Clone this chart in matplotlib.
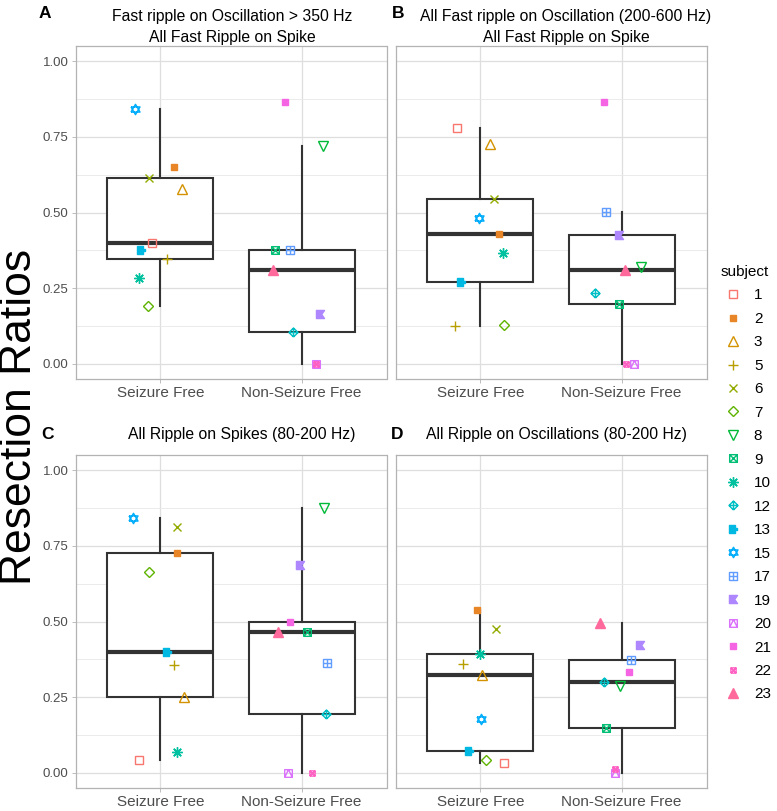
import math
import numpy as np
import matplotlib
matplotlib.use("Agg")
import matplotlib.pyplot as plt
from matplotlib.path import Path
from matplotlib.lines import Line2D
from matplotlib import font_manager

# ---------------- data ----------------
subjects = [1, 2, 3, 5, 6, 7, 8, 9, 10, 12, 13, 15, 17, 19, 20, 21, 22, 23]
outcome = ["SF", "SF", "SF", "SF", "SF", "SF", "NSF", "NSF", "SF", "NSF",
           "SF", "SF", "NSF", "NSF", "NSF", "NSF", "NSF", "NSF"]
groups = ["Seizure Free", "Non-Seizure Free"]

values_A = [0.40, 0.649, 0.576, 0.346, 0.614, 0.19, 0.72, 0.376, 0.285, 0.105,
            0.376, 0.843, 0.376, 0.164, 0.0, 0.866, 0.0, 0.31]
values_B = [0.78, 0.429, 0.725, 0.126, 0.545, 0.129, 0.319, 0.199, 0.365, 0.233,
            0.271, 0.481, 0.502, 0.427, 0.0, 0.866, 0.0, 0.31]
values_C = [0.041, 0.726, 0.25, 0.355, 0.812, 0.664, 0.874, 0.466, 0.068, 0.196,
            0.398, 0.842, 0.362, 0.686, 0.0, 0.50, 0.0, 0.466]
values_D = [0.034, 0.539, 0.323, 0.361, 0.474, 0.044, 0.288, 0.148, 0.392, 0.30,
            0.073, 0.178, 0.373, 0.422, 0.0, 0.334, 0.014, 0.496]

# horizontal jitter (category units)
jitter_A = [-0.06, 0.10, 0.15, 0.05, -0.08, -0.09, 0.15, -0.19, -0.15, -0.06,
            -0.14, -0.18, -0.085, 0.13, 0.10, -0.12, 0.10, -0.20]
jitter_B = [-0.165, 0.13, 0.066, -0.18, 0.095, 0.167, 0.137, -0.02, 0.16, -0.186,
            -0.14, -0.012, -0.108, -0.02, 0.09, -0.127, 0.03, 0.026]
jitter_C = [-0.15, 0.12, 0.17, 0.10, 0.115, -0.08, 0.155, 0.035, 0.115, 0.17,
            0.045, -0.19, 0.18, -0.015, -0.095, -0.08, 0.07, -0.17]
jitter_D = [0.17, -0.026, 0.012, -0.125, 0.11, 0.04, -0.012, -0.113, 0.0, -0.125,
            -0.08, 0.007, 0.064, 0.13, -0.05, 0.054, -0.05, -0.155]

titles = ["Fast ripple on Oscillation > 350 Hz\nAll Fast Ripple on Spike",
          "All Fast ripple on Oscillation (200-600 Hz)\nAll Fast Ripple on Spike",
          "All Ripple on Spikes (80-200 Hz)",
          "All Ripple on Oscillations (80-200 Hz)"]
panel_letters = ["A", "B", "C", "D"]
y_ticks = [0.0, 0.25, 0.50, 0.75, 1.00]
y_ticklabels = ["0.00", "0.25", "0.50", "0.75", "1.00"]
y_label = "Resection Ratios"
legend_title = "subject"

# ---------------- fonts ----------------
names = {f.name for f in font_manager.fontManager.ttflist}
base_font = "Liberation Sans" if "Liberation Sans" in names else "DejaVu Sans"
plt.rcParams["font.family"] = [base_font, "DejaVu Sans"]


# ---------------- ggplot hue palette ----------------
def hcl_hex(h, c=100.0, l=65.0):
    hr = math.radians(h)
    U, V = c * math.cos(hr), c * math.sin(hr)
    Xn, Yn, Zn = 95.047, 100.0, 108.883
    Y = Yn * ((l + 16) / 116) ** 3 if l > 8 else Yn * l / 903.3
    den = Xn + 15 * Yn + 3 * Zn
    un, vn = 4 * Xn / den, 9 * Yn / den
    u = U / (13 * l) + un
    v = V / (13 * l) + vn
    X = 9.0 * Y * u / (4 * v)
    Z = -X / 3 - 5 * Y + 3 * Y / v
    X, Y, Z = X / 100, Y / 100, Z / 100
    r = 3.240479 * X - 1.537150 * Y - 0.498535 * Z
    g = -0.969256 * X + 1.875992 * Y + 0.041556 * Z
    b = 0.055648 * X - 0.204043 * Y + 1.057311 * Z

    def gam(t):
        t = 12.92 * t if t <= 0.0031308 else 1.055 * t ** (1 / 2.4) - 0.055
        return min(max(t, 0.0), 1.0)
    return (gam(r), gam(g), gam(b))


n = len(subjects)
colors = [hcl_hex(15 + 360.0 * i / n) for i in range(n)]


# ---------------- marker shapes ----------------
def make_path(polys):
    verts, codes = [], []
    for p in polys:
        verts += p
        codes += [Path.MOVETO] + [Path.LINETO] * (len(p) - 1)
    return Path(verts, codes)


sq = [(-1, -1), (1, -1), (1, 1), (-1, 1), (-1, -1)]
sq_cross = make_path([sq, [(-1, -1), (1, 1)], [(-1, 1), (1, -1)]])
sq_plus = make_path([sq, [(0, -1), (0, 1)], [(-1, 0), (1, 0)]])
sq_tri = make_path([sq, [(-1, -1), (0, 1), (1, -1)]])
dia_plus = make_path([[(0, -1), (1, 0), (0, 1), (-1, 0), (0, -1)],
                      [(0, -1), (0, 1)], [(-1, 0), (1, 0)]])
star_david = make_path([[(-0.87, -0.5), (0.87, -0.5), (0, 1), (-0.87, -0.5)],
                        [(-0.87, 0.5), (0.87, 0.5), (0, -1), (-0.87, 0.5)]])
notch_sq = Path([(-1, -1), (0.4, -1), (0.4, -0.25), (1, -0.25), (1, 0.25),
                 (0.4, 0.25), (0.4, 1), (-1, 1), (-1, -1)], closed=True)
bow_sq = Path([(-1, -1), (1, -1), (0.3, 0), (1, 1), (-1, 1), (-1, -1)], closed=True)

styles = {
    1: ("s", False, 5.5), 2: ("s", True, 4.6), 3: ("^", False, 6.5),
    5: ("+", False, 7.5), 6: ("x", False, 6.0), 7: ("D", False, 5.0),
    8: ("v", False, 6.5), 9: (sq_cross, False, 5.5), 10: ((8, 2, 0), False, 7.5),
    12: (dia_plus, False, 6.5), 13: (notch_sq, True, 5.5), 15: (star_david, False, 7.5),
    17: (sq_plus, False, 5.5), 19: (bow_sq, True, 5.8), 20: (sq_tri, False, 5.5),
    21: ("s", True, 4.6), 22: (sq_cross, False, 3.8), 23: ("^", True, 6.5),
}


def marker_kwargs(s, col):
    m, filled, ms = styles[s]
    return dict(marker=m, markersize=ms, markeredgewidth=1.0,
                markeredgecolor=col, markerfacecolor=col if filled else "none",
                linestyle="none")


# ---------------- figure ----------------
W, H = 777, 811
fig = plt.figure(figsize=(W / 100, H / 100), dpi=100)


def px_axes(l, t, r, b):
    return fig.add_axes([l / W, 1 - b / H, (r - l) / W, (b - t) / H])


axes = [px_axes(75.5, 46, 386.5, 379), px_axes(395.5, 46, 706.5, 379),
        px_axes(75.5, 455, 386.5, 788), px_axes(395.5, 455, 706.5, 788)]
all_values = [values_A, values_B, values_C, values_D]
all_jitter = [jitter_A, jitter_B, jitter_C, jitter_D]

box_col = "#333333"
for k, ax in enumerate(axes):
    vals = all_values[k]
    jit = all_jitter[k]
    sf = [v for v, o in zip(vals, outcome) if o == "SF"]
    nsf = [v for v, o in zip(vals, outcome) if o == "NSF"]
    ax.boxplot([sf, nsf], positions=[1, 2], widths=0.75, whis=1.5,
               showfliers=False, showcaps=False, patch_artist=True,
               boxprops=dict(facecolor="white", edgecolor=box_col, linewidth=1.5),
               medianprops=dict(color=box_col, linewidth=3.0, solid_capstyle="butt"),
               whiskerprops=dict(color=box_col, linewidth=1.5),
               zorder=2)
    for i, s in enumerate(subjects):
        xpos = (1 if outcome[i] == "SF" else 2) + jit[i]
        ax.plot([xpos], [vals[i]], zorder=3, **marker_kwargs(s, colors[i]))

    ax.set_xlim(0.4, 2.6)
    ax.set_ylim(-0.05, 1.05)
    ax.set_xticks([1, 2])
    ax.set_xticklabels(groups, fontsize=11, color="#4D4D4D")
    ax.set_yticks(y_ticks)
    ax.set_yticks(np.arange(0.125, 1.0, 0.25), minor=True)
    ax.grid(True, which="major", color="#DEDEDE", linewidth=0.9, zorder=0)
    ax.grid(True, which="minor", axis="y", color="#E8E8E8", linewidth=0.6, zorder=0)
    ax.set_axisbelow(True)
    for sp in ax.spines.values():
        sp.set_color("#B3B3B3")
        sp.set_linewidth(0.9)
    ax.tick_params(axis="x", which="major", length=3, width=0.6, color="#B3B3B3", pad=2)
    ax.tick_params(axis="y", which="minor", length=0)
    if k in (0, 2):
        ax.set_yticklabels(y_ticklabels, fontsize=9.5, color="#4D4D4D")
        ax.tick_params(axis="y", which="major", length=3, width=0.6, color="#B3B3B3", pad=2)
    else:
        ax.tick_params(axis="y", which="major", length=0, labelleft=False)

# titles
title_pos = [(232, 27), (566, 27), (242, 435), (556, 435)]
for k, (tx, ty) in enumerate(title_pos):
    fig.text(tx / W, 1 - ty / H, titles[k], ha="center", va="center",
             ma="center", fontsize=11.3, linespacing=1.45, color="black")

letter_pos = [(45, 14), (398, 14), (48, 434), (397, 434)]
for k, (lx, ly) in enumerate(letter_pos):
    fig.text(lx / W, 1 - ly / H, panel_letters[k], ha="center", va="center",
             fontsize=12.5, fontweight="bold")

fig.text(20 / W, 1 - 417 / H, y_label, rotation=90, ha="center", va="center",
         fontsize=32)

# legend
handles = [Line2D([], [], **marker_kwargs(s, colors[i])) for i, s in enumerate(subjects)]
leg = fig.legend(handles, [str(s) for s in subjects], loc="upper left",
                 bbox_to_anchor=(721 / W, 1 - 265 / H), frameon=False,
                 title=legend_title, title_fontsize=11, fontsize=11,
                 alignment="left", handlelength=1.6, handletextpad=0.55,
                 labelspacing=0.62, borderpad=0, borderaxespad=0)

fig.savefig("out.png", dpi=100)
